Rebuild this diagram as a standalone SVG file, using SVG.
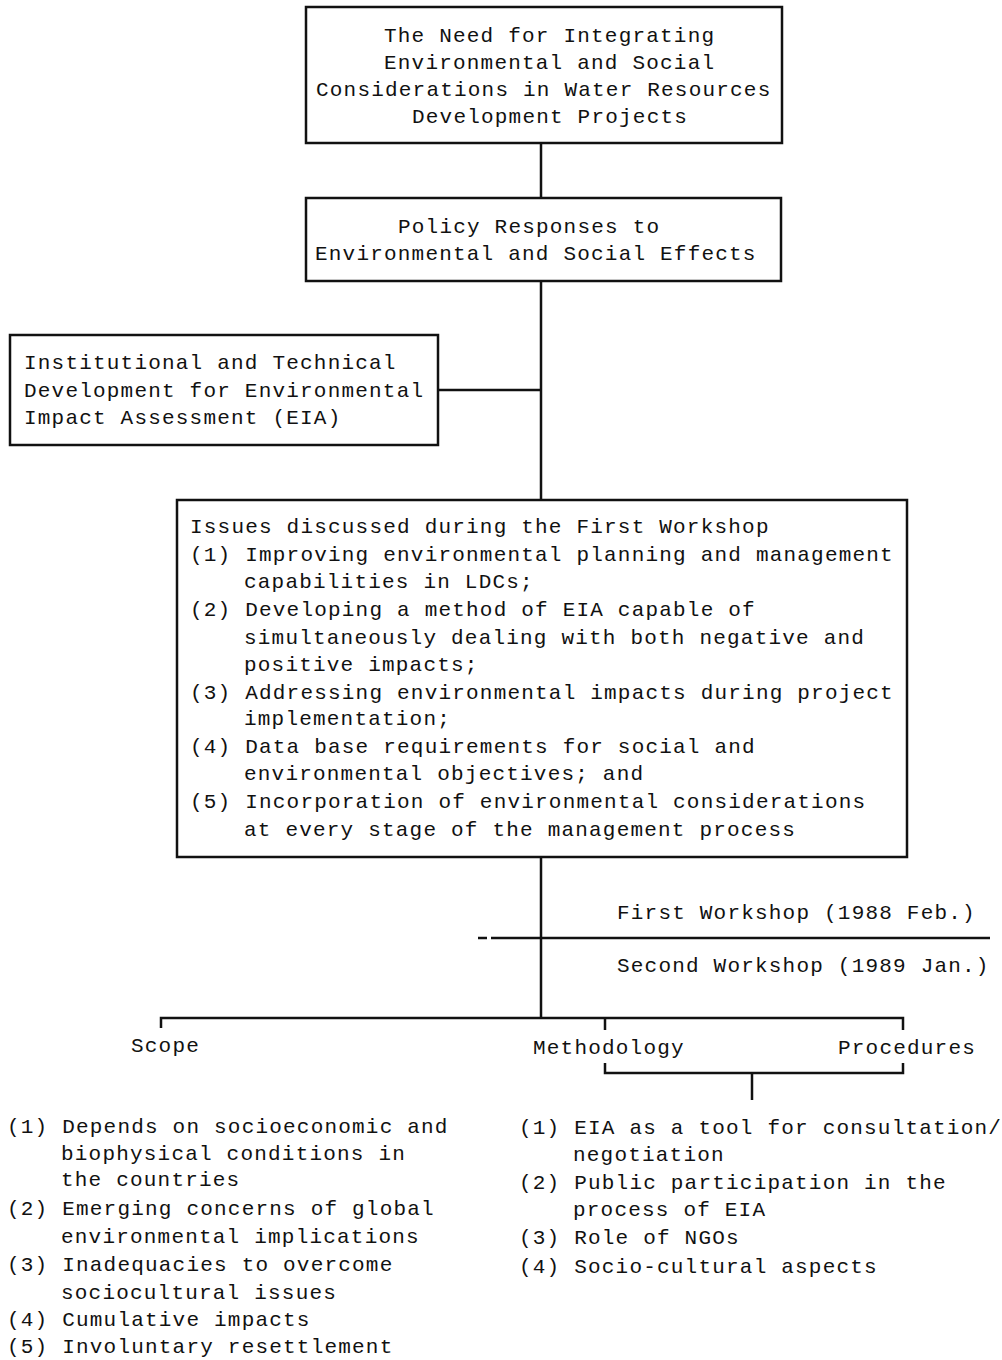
<svg xmlns="http://www.w3.org/2000/svg" width="1002" height="1360" viewBox="0 0 1002 1360">
<style>
text{font-family:"Liberation Mono","Courier New",monospace;font-size:21px;letter-spacing:1.2px;fill:#111}
.box{fill:#fff;stroke:#111;stroke-width:2.5}
.ln{fill:none;stroke:#111;stroke-width:2.5}
</style>
<rect width="1002" height="1360" fill="#fff"/>
<g id="connectors">
<path class="ln" d="M541,143 V198 M541,281 V500 M438,390 H541 M541,857 V1018 M161,1028 V1018 H903 V1030 M605,1018 V1030 M605,1063 V1073 H903 V1063 M752,1073 V1100"/>
<path class="ln" stroke-width="2" d="M478,938 H487 M491,938 H633"/>
<path class="ln" stroke-width="1.5" stroke="#444" d="M633,938 H877"/>
<path class="ln" stroke-width="1" stroke="#999" d="M877,938 H967"/>
<path class="ln" stroke-width="1.8" d="M967,938 H990"/>
</g>
<g id="node-need">
<rect class="box" x="306" y="7" width="476" height="136"/>
<text x="384" y="42">The Need for Integrating</text>
<text x="384" y="69">Environmental and Social</text>
<text x="316" y="96">Considerations in Water Resources</text>
<text x="412" y="123">Development Projects</text>
</g>
<g id="node-policy">
<rect class="box" x="306" y="198" width="475" height="83"/>
<text x="398" y="233">Policy Responses to</text>
<text x="315" y="260">Environmental and Social Effects</text>
</g>
<g id="node-institutional">
<rect class="box" x="10" y="335" width="428" height="110"/>
<text x="24" y="369">Institutional and Technical</text>
<text x="24" y="397">Development for Environmental</text>
<text x="24" y="424">Impact Assessment (EIA)</text>
</g>
<g id="node-issues">
<rect class="box" x="177" y="500" width="730" height="357"/>
<text x="190" y="533">Issues discussed during the First Workshop</text>
<text x="190" y="561">(1) Improving environmental planning and management</text>
<text x="244" y="588">capabilities in LDCs;</text>
<text x="190" y="616">(2) Developing a method of EIA capable of</text>
<text x="244" y="644">simultaneously dealing with both negative and</text>
<text x="244" y="671">positive impacts;</text>
<text x="190" y="699">(3) Addressing environmental impacts during project</text>
<text x="244" y="725">implementation;</text>
<text x="190" y="753">(4) Data base requirements for social and</text>
<text x="244" y="780">environmental objectives; and</text>
<text x="190" y="808">(5) Incorporation of environmental considerations</text>
<text x="244" y="836">at every stage of the management process</text>
</g>
<g id="labels-workshops">
<text x="617" y="919">First Workshop (1988 Feb.)</text>
<text x="617" y="972">Second Workshop (1989 Jan.)</text>
</g>
<g id="node-scope">
<text x="131" y="1052">Scope</text>
</g>
<g id="node-methodology">
<text x="533" y="1054">Methodology</text>
</g>
<g id="node-procedures">
<text x="838" y="1054">Procedures</text>
</g>
<g id="list-scope">
<text x="7" y="1133">(1) Depends on socioeconomic and</text>
<text x="61" y="1160">biophysical conditions in</text>
<text x="61" y="1186">the countries</text>
<text x="7" y="1215">(2) Emerging concerns of global</text>
<text x="61" y="1243">environmental implications</text>
<text x="7" y="1271">(3) Inadequacies to overcome</text>
<text x="61" y="1299">sociocultural issues</text>
<text x="7" y="1326">(4) Cumulative impacts</text>
<text x="7" y="1353">(5) Involuntary resettlement</text>
</g>
<g id="list-procedures">
<text x="519" y="1134">(1) EIA as a tool for consultation/</text>
<text x="573" y="1161">negotiation</text>
<text x="519" y="1189">(2) Public participation in the</text>
<text x="573" y="1216">process of EIA</text>
<text x="519" y="1244">(3) Role of NGOs</text>
<text x="519" y="1273">(4) Socio-cultural aspects</text>
</g>
</svg>
